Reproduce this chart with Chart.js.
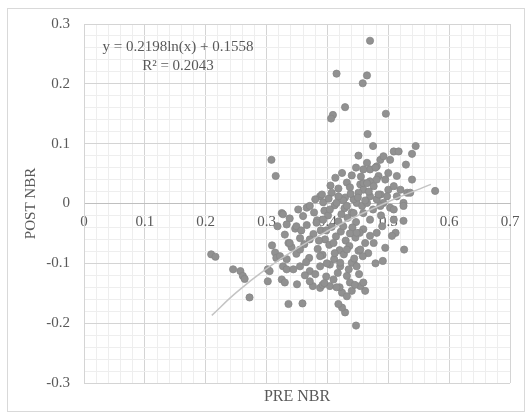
<!DOCTYPE html>
<html>
<head>
<meta charset="utf-8">
<script src="https://cdn.jsdelivr.net/npm/chart.js@4.4.1/dist/chart.umd.min.js"></script>
<style>
  html, body { margin: 0; padding: 0; background: #fff; }
  canvas { display: block; }
</style>
</head>
<body>
<canvas id="nbrChart" width="531" height="419"></canvas>
<script>
// PRE NBR / POST NBR 散佈點
const preNbr = [
  0.470, 0.415, 0.465, 0.458, 0.429, 0.409, 0.406, 0.496, 0.466, 0.475,
  0.545, 0.308, 0.315, 0.539, 0.529, 0.539, 0.577, 0.509, 0.517, 0.503,
  0.500, 0.514, 0.520, 0.531, 0.451, 0.465, 0.487, 0.492, 0.481, 0.470,
  0.479, 0.424, 0.413, 0.484, 0.495, 0.454, 0.459, 0.451, 0.470, 0.476,
  0.500, 0.498, 0.388, 0.380, 0.407, 0.429, 0.448, 0.443, 0.481, 0.492,
  0.525, 0.366, 0.391, 0.459, 0.509, 0.514, 0.536, 0.459, 0.481, 0.465,
  0.470, 0.487, 0.457, 0.465, 0.487, 0.503, 0.525, 0.509, 0.509, 0.525,
  0.512, 0.506, 0.495, 0.526, 0.491, 0.479, 0.459, 0.470, 0.459, 0.470,
  0.462, 0.481, 0.476, 0.325, 0.302, 0.302, 0.336, 0.359, 0.447, 0.429,
  0.424, 0.418, 0.462, 0.443, 0.209, 0.216, 0.245, 0.257, 0.261, 0.264,
  0.272, 0.305, 0.314, 0.316, 0.327, 0.333, 0.325, 0.330, 0.336, 0.410,
  0.432, 0.437, 0.344, 0.355, 0.371, 0.388, 0.404, 0.421, 0.440, 0.404,
  0.388, 0.424, 0.432, 0.440, 0.376, 0.454, 0.392, 0.420, 0.352, 0.371,
  0.395, 0.412, 0.428, 0.440, 0.338, 0.360, 0.383, 0.401, 0.418, 0.433,
  0.447, 0.488, 0.318, 0.347, 0.366, 0.389, 0.407, 0.422, 0.441, 0.453,
  0.490, 0.330, 0.355, 0.377, 0.396, 0.414, 0.430, 0.446, 0.437, 0.309,
  0.341, 0.362, 0.384, 0.403, 0.420, 0.436, 0.451, 0.467, 0.322, 0.349,
  0.370, 0.392, 0.411, 0.427, 0.444, 0.458, 0.363, 0.380, 0.398, 0.417,
  0.452, 0.350, 0.371, 0.395, 0.415, 0.445, 0.459, 0.405, 0.418, 0.432,
  0.440, 0.426, 0.438, 0.447, 0.455, 0.462, 0.475, 0.468, 0.484, 0.393,
  0.378, 0.333, 0.349, 0.338, 0.355, 0.371, 0.333, 0.382, 0.393, 0.404,
  0.415, 0.432, 0.443, 0.426, 0.448, 0.410, 0.432, 0.454, 0.388, 0.421,
  0.448, 0.365, 0.327, 0.398, 0.412, 0.386, 0.423, 0.399, 0.357, 0.435,
  0.402, 0.418, 0.437, 0.450
];
const postNbr = [
  0.272, 0.217, 0.214, 0.201, 0.161, 0.148, 0.142, 0.150, 0.116, 0.096,
  0.096, 0.073, 0.046, 0.083, 0.065, 0.040, 0.021, 0.087, 0.087, 0.073,
  0.051, 0.046, 0.023, 0.018, 0.080, 0.068, 0.073, 0.079, 0.062, 0.057,
  0.060, 0.051, 0.043, 0.046, 0.040, 0.032, 0.023, 0.018, 0.037, 0.029,
  0.023, 0.012, 0.012, 0.007, 0.018, 0.010, 0.001, 0.007, 0.007, 0.001,
  0.001, -0.007, 0.015, 0.034, 0.029, 0.012, 0.018, 0.057, 0.040, 0.034,
  0.012, 0.015, -0.004, 0.001, -0.004, -0.007, -0.004, -0.010, -0.027, -0.029,
  -0.049, -0.054, -0.074, -0.077, -0.096, -0.100, -0.016, -0.027, -0.043, -0.054,
  -0.066, -0.049, -0.066, -0.016, -0.110, -0.130, -0.168, -0.167, -0.204, -0.182,
  -0.174, -0.168, -0.146, -0.099, -0.085, -0.089, -0.110, -0.113, -0.121, -0.126,
  -0.157, -0.113, -0.082, -0.091, -0.105, -0.110, -0.127, -0.132, -0.066, -0.127,
  -0.121, -0.132, -0.110, -0.105, -0.113, -0.105, -0.102, -0.105, -0.099, -0.138,
  -0.141, -0.149, -0.155, -0.146, -0.138, -0.138, -0.136, -0.140, -0.010, -0.004,
  -0.012, -0.003, -0.008, -0.015, -0.025, -0.021, -0.028, -0.020, -0.030, -0.024,
  -0.031, -0.020, -0.038, -0.042, -0.036, -0.045, -0.039, -0.047, -0.040, -0.049,
  -0.038, -0.052, -0.058, -0.051, -0.060, -0.055, -0.062, -0.057, -0.050, -0.070,
  -0.073, -0.068, -0.076, -0.069, -0.078, -0.071, -0.079, -0.083, -0.088, -0.084,
  -0.091, -0.086, -0.093, -0.085, -0.092, -0.088, -0.120, -0.118, -0.122, -0.116,
  -0.118, -0.135, -0.130, -0.133, -0.140, -0.136, -0.132, 0.030, 0.025, 0.035,
  0.047, 0.005, 0.016, 0.060, 0.045, 0.005, -0.010, 0.020, 0.015, 0.002,
  -0.015, -0.035, -0.038, -0.066, -0.077, -0.060, -0.093, -0.032, -0.027, -0.010,
  0.001, -0.004, -0.016, -0.038, -0.049, -0.066, -0.077, -0.077, -0.088, -0.099,
  -0.105, -0.098, -0.018, -0.045, -0.083, -0.062, -0.018, -0.100, -0.045, -0.110,
  0.008, 0.012, 0.027, 0.010
];

// 對數趨勢線 y = 0.2198ln(x) + 0.1558（圖上讀點）
const trendX = [0.21, 0.25, 0.30, 0.35, 0.40, 0.45, 0.50, 0.57];
const trendY = [-0.187, -0.149, -0.109, -0.075, -0.046, -0.020, 0.003, 0.032];

const xTickLabels = ['0', '0.1', '0.2', '0.3', '0.4', '0.5', '0.6', '0.7'];
const yTickLabels = ['-0.3', '-0.2', '-0.1', '0', '0.1', '0.2', '0.3'];

const FONT = '"Liberation Serif", "Times New Roman", serif';
const TEXT = '#595959';

const isMajor = v => Math.round(v * 50) % 5 === 0;

const frame = {
  id: 'frame',
  beforeDraw(chart) {
    const ctx = chart.ctx;
    ctx.save();
    ctx.fillStyle = '#fff';
    ctx.fillRect(0, 0, chart.width, chart.height);
    ctx.strokeStyle = '#d9d9d9';
    ctx.lineWidth = 1;
    ctx.strokeRect(7.5, 8.5, 517, 403);
    ctx.restore();
  },
  afterDraw(chart) {
    const ctx = chart.ctx;
    const area = chart.chartArea;
    ctx.save();
    ctx.fillStyle = TEXT;
    ctx.textAlign = 'center';
    ctx.textBaseline = 'middle';
    ctx.font = '15px ' + FONT;
    ctx.fillText('y = 0.2198ln(x) + 0.1558', 178, 47);
    ctx.fillText('R² = 0.2043', 178, 66);
    ctx.font = '16px ' + FONT;
    ctx.fillText('PRE NBR', (area.left + area.right) / 2, 397);
    ctx.restore();
  }
};

const ctx = document.getElementById('nbrChart').getContext('2d');
new Chart(ctx, {
  type: 'scatter',
  data: {
    datasets: [
      {
        label: 'trend',
        data: trendX.map((x, i) => ({ x, y: trendY[i] })),
        showLine: true,
        borderColor: '#c4c4c4',
        borderWidth: 1.5,
        pointRadius: 0,
        tension: 0.4
      },
      {
        label: 'NBR',
        data: preNbr.map((x, i) => ({ x, y: postNbr[i] })),
        pointRadius: 3.6,
        pointBackgroundColor: '#919191',
        pointBorderColor: '#878787',
        pointBorderWidth: 0.8
      }
    ]
  },
  options: {
    responsive: false,
    animation: false,
    layout: { padding: { left: 22, top: 24, right: 21, bottom: 36 } },
    plugins: { legend: { display: false }, tooltip: { enabled: false } },
    scales: {
      x: {
        type: 'linear',
        position: { y: 0 },
        min: 0,
        max: 0.7,
        grid: {
          drawTicks: false,
          color: c => (c.tick && isMajor(c.tick.value)) ? '#d4d4d4' : '#eeeeee'
        },
        border: { color: '#bfbfbf' },
        ticks: {
          stepSize: 0.02,
          autoSkip: false,
          maxRotation: 0,
          padding: 10,
          color: TEXT,
          font: { family: FONT, size: 15 },
          callback: v => {
            const i = Math.round(v * 50);
            return i % 5 === 0 ? xTickLabels[i / 5] : '';
          }
        }
      },
      y: {
        type: 'linear',
        position: 'left',
        min: -0.3,
        max: 0.3,
        afterFit: s => { s.width = 62; },
        grid: {
          drawTicks: false,
          color: c => (c.tick && isMajor(c.tick.value)) ? '#d4d4d4' : '#eeeeee'
        },
        border: { color: '#d4d4d4' },
        title: {
          display: true,
          text: 'POST NBR',
          color: TEXT,
          padding: 0,
          font: { family: FONT, size: 15 }
        },
        ticks: {
          stepSize: 0.02,
          autoSkip: false,
          padding: 14,
          color: TEXT,
          font: { family: FONT, size: 15 },
          callback: v => {
            const i = Math.round(v * 50) + 15;
            return i % 5 === 0 ? yTickLabels[i / 5] : '';
          }
        }
      }
    }
  },
  plugins: [frame]
});
</script>
</body>
</html>
